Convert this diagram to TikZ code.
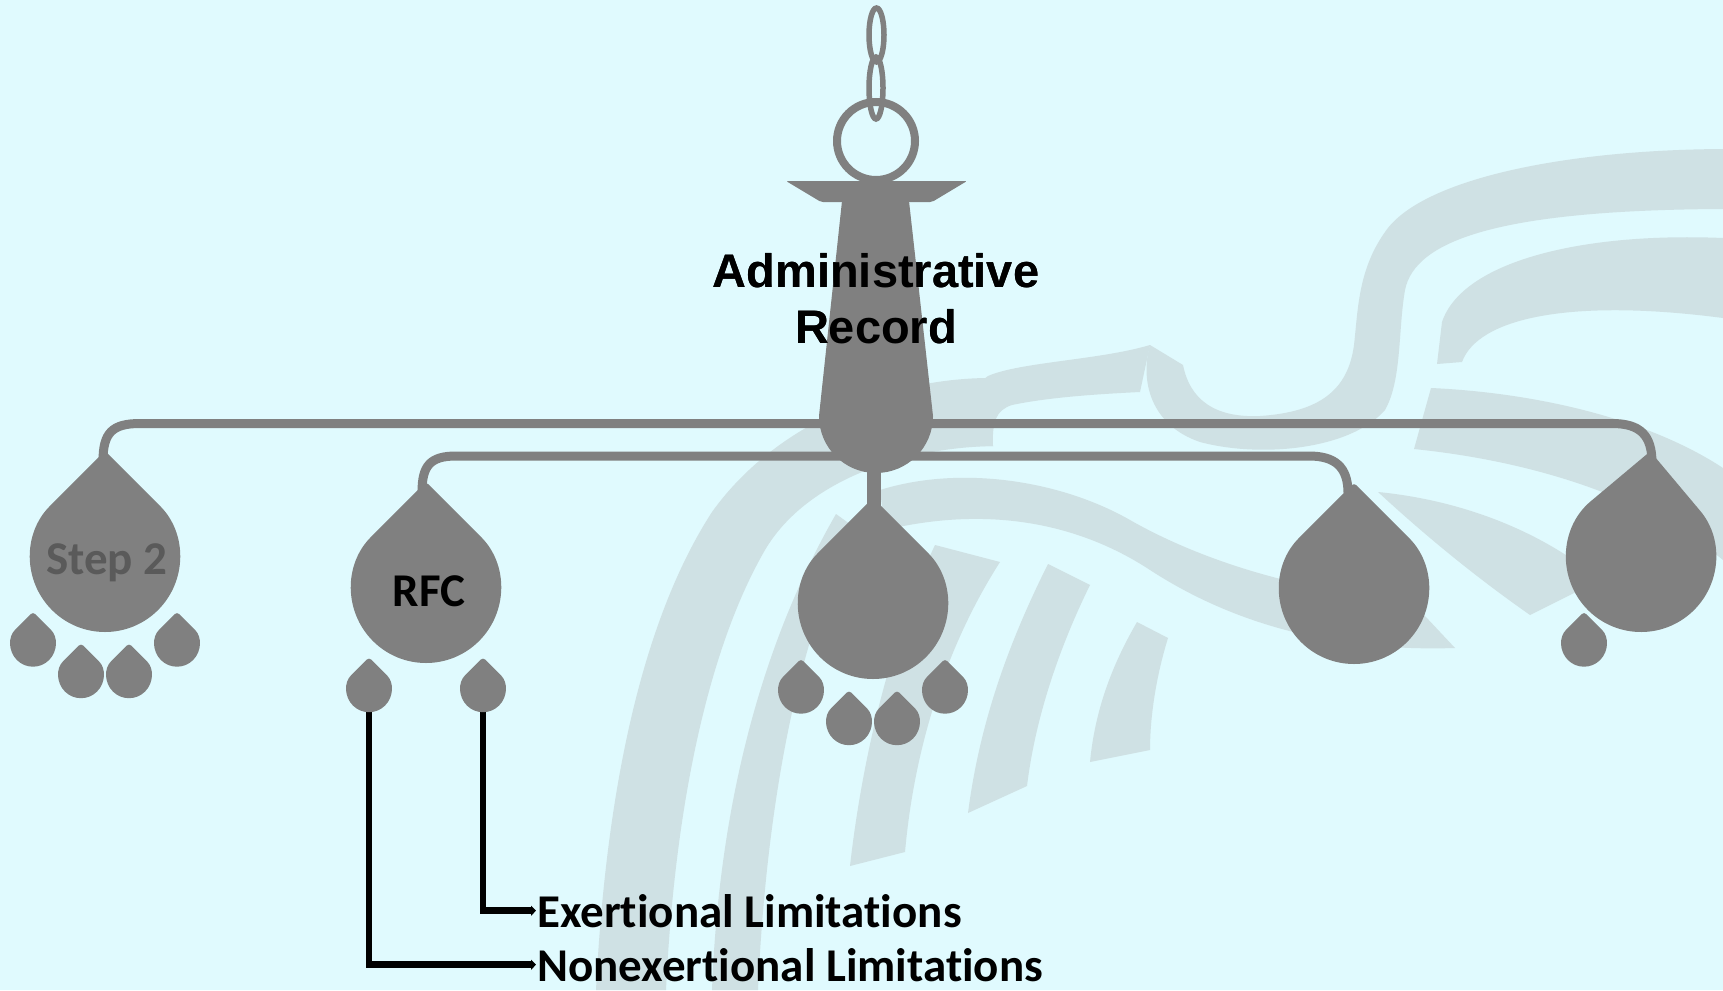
\documentclass[tikz,border=0pt]{standalone}
\usepackage{fontspec}
\newfontfamily\titlefont{Liberation Sans}
\newfontfamily\tagfont{Carlito}[Ligatures={NoCommon,NoContextual}]
\usetikzlibrary{calc,arrows.meta}
\definecolor{paper}{HTML}{E0FAFE}
\definecolor{emblem}{HTML}{CFE1E4}
\definecolor{fixture}{HTML}{808080}
\definecolor{dimtext}{HTML}{5A5A5A}

\begin{document}
\begin{tikzpicture}[x=1pt,y=-1pt,
  pics/drop/.style={code={\fill[fixture,rounded corners=3pt] (0,{-1.414*#1}) -- ({-0.7071*#1},{-0.7071*#1}) arc[start angle=225,end angle=-45,radius=#1] -- cycle;}},
  bar/.style={draw=fixture,line width=9pt},
  lead/.style={draw=black,line width=6.5pt,-{Triangle[length=5pt,width=10pt]}},
  tag/.style={font=\tagfont\bfseries\fontsize{47pt}{56pt}\selectfont,inner sep=0pt},
  title/.style={font=\titlefont\bfseries\fontsize{47pt}{56pt}\selectfont,inner sep=0pt,align=center}]

% page
\fill[paper] (0,0) rectangle (1723,990);
\useasboundingbox (0,0) rectangle (1723,990);

% faint emblem in the background
% outer feather arc
\fill[emblem] (596,990) .. controls (606,790) and (642,620) .. (712,512) .. controls (772,428) and (880,380) .. (985,378) -- (993,446) .. controls (900,448) and (805,482) .. (765,550) .. controls (710,645) and (675,800) .. (666,990) -- cycle;
% inner feather arc
\fill[emblem] (712,990) .. controls (718,830) and (752,660) .. (836,514) -- (854,527) .. controls (792,650) and (765,830) .. (758,990) -- cycle;
% short feathers right of the centre
\fill[emblem] (935,545) -- (1000,562) .. controls (950,640) and (915,740) .. (905,852) -- (850,866) .. controls (862,760) and (890,640) .. (935,545) -- cycle;
\fill[emblem] (1048,564) -- (1090,585) .. controls (1058,650) and (1035,720) .. (1027,786) -- (968,813) .. controls (980,720) and (1010,640) .. (1048,564) -- cycle;
\fill[emblem] (1137,622) -- (1168,638) .. controls (1155,680) and (1150,720) .. (1150,750) -- (1090,762) .. controls (1095,710) and (1112,665) .. (1137,622) -- cycle;
% head
\fill[emblem] (1150,345) .. controls (1100,360) and (1020,362) .. (988,376) .. controls (970,388) and (968,415) .. (970,446) -- (993,446) .. controls (992,422) and (996,410) .. (1012,405) .. controls (1050,397) and (1100,394) .. (1140,392) -- cycle;
% upper wing sweeping down into the head
\fill[emblem] (1723,149) .. controls (1560,150) and (1420,180) .. (1385,232) .. controls (1358,270) and (1358,310) .. (1354,345) .. controls (1348,390) and (1320,412) .. (1260,416) .. controls (1215,418) and (1190,400) .. (1183,365) -- (1150,345) .. controls (1140,380) and (1150,425) .. (1200,442) .. controls (1260,458) and (1350,450) .. (1385,410) .. controls (1402,380) and (1398,330) .. (1405,290) .. controls (1415,240) and (1500,210) .. (1723,209) -- cycle;
% second wing
\fill[emblem] (1723,238) .. controls (1580,232) and (1462,262) .. (1442,322) -- (1437,364) -- (1462,362) .. controls (1478,318) and (1570,298) .. (1723,318) -- cycle;
% third wing
\fill[emblem] (1431,388) .. controls (1540,393) and (1650,420) .. (1723,468) -- (1723,560) .. controls (1650,500) and (1540,462) .. (1414,449) -- cycle;
% lower wing band
\fill[emblem] (1378,492) .. controls (1460,500) and (1540,530) .. (1600,580) -- (1530,615) .. controls (1480,580) and (1430,540) .. (1378,492) -- cycle;
% long swoosh
\fill[emblem] (880,490) .. controls (960,465) and (1060,480) .. (1130,520) .. controls (1200,560) and (1300,592) .. (1410,600) -- (1455,648) .. controls (1330,652) and (1230,622) .. (1150,570) .. controls (1080,524) and (990,505) .. (885,530) -- cycle;

% drop centres
\coordinate (c-step2) at (105,557);
\coordinate (c-rfc) at (426,588);
\coordinate (c-mid) at (873,604);
\coordinate (c-four) at (1354,589);
\coordinate (c-five) at (1641,557);
\coordinate (c-rfcL) at (369,689.5);
\coordinate (c-rfcR) at (483,689.5);

% labels
\node[title] (admin) at (876,298.5) {Administrative\\Record};
\node[tag,text=dimtext,anchor=base] (step2) at (107,574) {Step 2};
\node[tag,anchor=base] (rfc) at (429,606) {RFC};
\node[tag,anchor=base west,inner sep=1pt] (exert) at (536,927) {Exertional Limitations};
\node[tag,anchor=base west,inner sep=1pt] (nonex) at (536,981) {Nonexertional Limitations};

% leads from the RFC droplets to their labels
\draw[lead] (c-rfcR) |- (exert.west);
\draw[lead] (c-rfcL) |- (nonex.west);

% chain, ring and canopy
\draw[fixture,line width=5.5pt] (876.5,35) ellipse[x radius=7.5,y radius=27];
\draw[fixture,line width=5.5pt] (876,88) ellipse[x radius=7,y radius=31];
\draw[fixture,line width=8pt] (876,141) circle[radius=39];
\fill[fixture,rounded corners=2pt] (786,181) -- (967,181) -- (932,202) -- (821,202) -- cycle;
\fill[fixture] (842,201) -- (909,201) -- (933,416) arc[start angle=0,end angle=180,radius=57] -- cycle;
\draw[fixture,line width=14pt] (874,470) -- (874,512);

% arms
\coordinate (arm1L) at (140,423.5);
\coordinate (arm1R) at (1612,423.5);
\coordinate (arm2L) at (456,456);
\coordinate (arm2R) at (1309,456);
\draw[bar] ($(c-step2)+(-2,-96)$) .. controls +(0,-28) and +(-28,0) .. (arm1L) -- (arm1R) .. controls +(28,0) and +(0,-28) .. ($(c-five)+(11,-94)$);
\draw[bar] ($(c-rfc)+(-4,-96)$) .. controls +(0,-26) and +(-26,0) .. (arm2L) -- (arm2R) .. controls +(26,0) and +(0,-26) .. ($(c-four)+(-6,-96)$);

% large drops
\pic at (c-step2) {drop=75};
\pic at (c-rfc) {drop=75};
\pic at (c-mid) {drop=75};
\pic at (c-four) {drop=75};
\pic[rotate=-5] at (c-five) {drop=75};

% small drops
\foreach \dx/\dy in {-72/87,-24/118.5,24/118.5,72/87}{
  \pic at ($(c-step2)+(\dx,\dy)$) {drop=22.7};
  \pic at ($(c-mid)+(\dx,\dy)$) {drop=22.7};
}
\pic at (c-rfcL) {drop=22.7};
\pic at (c-rfcR) {drop=22.7};
\pic at ($(c-five)+(-57,87)$) {drop=22.7};

% labels on top of the drops
\node[title] at (admin) {Administrative\\Record};
\node[tag,text=dimtext,anchor=base] at (step2.base) {Step 2};
\node[tag,anchor=base] at (rfc.base) {RFC};
\end{tikzpicture}
\end{document}
